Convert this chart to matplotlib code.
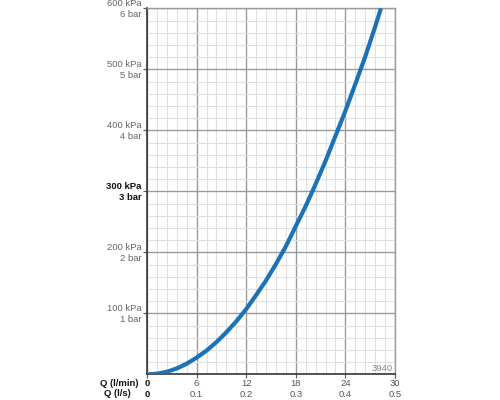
import matplotlib
matplotlib.use("Agg")
import matplotlib.pyplot as plt
from matplotlib.ticker import MultipleLocator

# Data
flow_lpm = [0, 1.2, 2.4, 3.6, 4.8, 6, 7.2, 8.4, 9.6, 10.8, 12, 13.2, 14.4, 15.6,
            16.8, 18, 19.2, 20.4, 21.6, 22.8, 24, 25.2, 26.4, 27.6, 28.3]
pressure_kpa = [0, 1.1, 4.3, 9.7, 17.5, 27.5, 39, 53, 69, 87, 107, 130, 154, 181,
                210, 243, 276, 312, 350, 391, 432, 476, 521, 570, 600]

x_ticks = [0, 6, 12, 18, 24, 30]
x_labels_lpm = ["0", "6", "12", "18", "24", "30"]
x_labels_lps = ["0", "0.1", "0.2", "0.3", "0.4", "0.5"]
y_ticks = [100, 200, 300, 400, 500, 600]
y_labels = ["100 kPa\n1 bar", "200 kPa\n2 bar", "300 kPa\n3 bar",
            "400 kPa\n4 bar", "500 kPa\n5 bar", "600 kPa\n6 bar"]

plt.rcParams['font.family'] = ['Liberation Sans', 'DejaVu Sans']

fig = plt.figure(figsize=(5, 4), dpi=100)
ax = fig.add_axes([0.294, 0.064, 0.496, 0.915])
ax.set_xlim(0, 30)
ax.set_ylim(0, 600)

ax.xaxis.set_minor_locator(MultipleLocator(1.2))
ax.yaxis.set_minor_locator(MultipleLocator(20))
ax.set_xticks(x_ticks)
ax.set_yticks(y_ticks)
ax.grid(which='minor', color='#e0e0e0', linewidth=0.8)
ax.grid(which='major', color='#9a9a9a', linewidth=1.0)
ax.set_axisbelow(True)

ax.plot(flow_lpm, pressure_kpa, color='#1b72b6', linewidth=3.0,
        solid_capstyle='butt', solid_joinstyle='round', zorder=3)

for side in ['top', 'right']:
    ax.spines[side].set_color('#9a9a9a')
    ax.spines[side].set_linewidth(1.0)
for side in ['left', 'bottom']:
    ax.spines[side].set_color('#333333')
    ax.spines[side].set_linewidth(1.2)

ax.tick_params(which='minor', length=0)
ax.tick_params(which='major', length=3, width=0.8, color='#555555')
ax.set_xticklabels([])
ax.set_yticklabels([])

fs = 6.8
# y labels
for yv, lab in zip(y_ticks, y_labels):
    bold = (yv == 300)
    ax.annotate(lab, xy=(0, yv), xycoords='data', xytext=(-4, -0.5),
                textcoords='offset points', ha='right', va='center',
                fontsize=fs, color='#111111' if bold else '#666666',
                fontweight='bold' if bold else 'normal', linespacing=1.2)

# x labels, two rows
for xv, l1, l2 in zip(x_ticks, x_labels_lpm, x_labels_lps):
    bold = (xv == 0)
    c = '#111111' if bold else '#555555'
    w = 'bold' if bold else 'normal'
    ax.annotate(l1, xy=(xv, 0), xycoords='data', xytext=(0, -6.5),
                textcoords='offset points', ha='center', va='center',
                fontsize=fs, color=c, fontweight=w)
    ax.annotate(l2, xy=(xv, 0), xycoords='data', xytext=(0, -14.5),
                textcoords='offset points', ha='center', va='center',
                fontsize=fs, color=c, fontweight=w)

fig.text(119.5 / 500, 1 - 383 / 400, "Q (l/min)", ha='center', va='center',
         fontsize=fs, fontweight='bold', color='#111111')
fig.text(117.5 / 500, 1 - 394 / 400, "Q (l/s)", ha='center', va='center',
         fontsize=fs, fontweight='bold', color='#111111')

ax.text(0.99, 0.005, "3940", transform=ax.transAxes, ha='right', va='bottom',
        fontsize=6.8, color='#888888')

fig.savefig("out.png", dpi=100)
